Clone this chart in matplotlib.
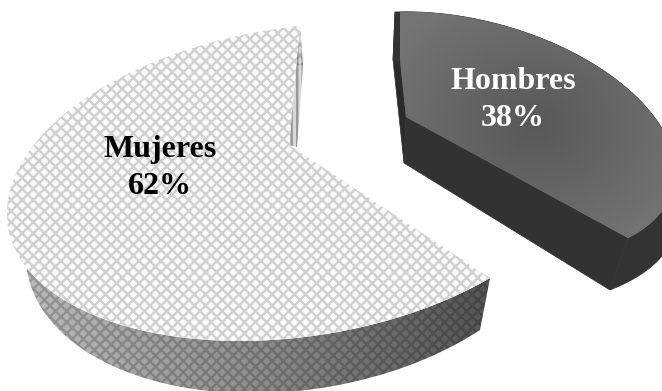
import numpy as np
import matplotlib
matplotlib.use("Agg")
import matplotlib.pyplot as plt
from matplotlib.patches import Polygon

categories = ["Hombres", "Mujeres"]
shares = [38, 62]

plt.rcParams["font.family"] = ["Liberation Serif", "DejaVu Serif"]
plt.rcParams["hatch.linewidth"] = 1.7

fig = plt.figure(figsize=(6.62, 3.91), dpi=100)
ax = fig.add_axes([0, 0, 1, 1])
ax.set_xlim(0, 662)
ax.set_ylim(391, 0)
ax.axis("off")

# clockwise slice angles, measured from twelve o'clock
split = 2 * np.pi * shares[0] / sum(shares)


def disc_xy(theta):
    return np.sin(theta), np.cos(theta)


def homography(src, dst):
    rows, rhs = [], []
    for (u, v), (x, y) in zip(src, dst):
        rows.append([u, v, 1, 0, 0, 0, -u * x, -v * x])
        rows.append([0, 0, 0, u, v, 1, -u * y, -v * y])
        rhs += [x, y]
    h = np.linalg.solve(np.array(rows, float), np.array(rhs, float))
    return np.append(h, 1).reshape(3, 3)


def project(H, u, v):
    p = H @ np.vstack([u, v, np.ones_like(u)])
    return np.column_stack([p[0] / p[2], p[1] / p[2]])


split_pt = disc_xy(split)
men_src = [disc_xy(0), disc_xy(np.pi / 4), disc_xy(np.pi / 2), split_pt]
men_top = homography(men_src, [(395, 12), (590, 62), (675, 165), (628, 238)])
men_low = homography(men_src, [(393, 60), (585, 118), (675, 208), (610, 290)])

women_src = [disc_xy(np.pi), disc_xy(1.5 * np.pi), disc_xy(2 * np.pi), split_pt]
women_top = homography(women_src, [(271, 340), (9, 195), (300, 26), (490, 278)])
women_low = homography(women_src, [(268, 393), (30, 226), (303, 65), (480, 330)])

men_apex_t = np.array([[406.0, 117.0]])
men_apex_l = np.array([[404.0, 163.0]])
women_apex_t = np.array([[289.0, 145.0]])
women_apex_b = np.array([[297.0, 147.0]])


def rim(H, start, end, n=240):
    t = np.linspace(start, end, n)
    u, v = disc_xy(t)
    return project(H, u, v)


def gradient_fill(poly, colors, extent, direction="x", zorder=1):
    """Paint a grey ramp or radial ramp clipped to a polygon."""
    patch = Polygon(poly, closed=True, fc="none", ec="none", zorder=zorder)
    ax.add_patch(patch)
    x0, x1, y0, y1 = extent
    xx, yy = np.meshgrid(np.linspace(0, 1, 300), np.linspace(0, 1, 200))
    if direction == "x":
        ramp = xx
    else:
        ramp = np.clip(np.hypot((xx - 0.5) * 1.6, (yy - 0.5) * 1.6), 0, 1)
    cmap = matplotlib.colors.LinearSegmentedColormap.from_list("ramp", colors)
    im = ax.imshow(ramp, extent=(x0, x1, y1, y0), cmap=cmap, vmin=0, vmax=1,
                   aspect="auto", zorder=zorder, interpolation="bilinear")
    im.set_clip_path(patch)


# Hombres wedge: side walls, then top
men_rim_t = rim(men_top, 0, split)
men_rim_l = rim(men_low, 0, split)

ax.add_patch(Polygon(np.vstack([men_apex_t, men_rim_t[0], men_rim_l[0], men_apex_l]),
                     fc="#2b2b2b", ec="#2b2b2b", lw=0.5, zorder=1))
ax.add_patch(Polygon(np.vstack([men_apex_t, men_rim_t[-1], men_rim_l[-1], men_apex_l]),
                     fc="#323232", ec="#323232", lw=0.5, zorder=1))
ax.add_patch(Polygon(np.vstack([men_rim_t, men_rim_l[::-1]]),
                     fc="#333333", ec="#333333", lw=0.5, zorder=1))
gradient_fill(np.vstack([men_apex_t, men_rim_t]), ["#585858", "#747474"],
              (400, 670, 10, 240), direction="r", zorder=2)

# Mujeres wedge: side walls, then top
women_rim_t = rim(women_top, split, 2 * np.pi)
women_rim_l = rim(women_low, split, 2 * np.pi)

# cut face seen almost edge-on next to the rear radius
sliver = np.vstack([women_rim_t[-1:], women_rim_l[-1:], women_apex_b, women_apex_t])
ax.add_patch(Polygon(sliver, fc="#d8d8d8", ec="none", zorder=1))
ax.add_patch(Polygon(sliver, fc="none", ec="#989898", hatch="|||", lw=0, zorder=1.1))

wall = np.vstack([women_rim_t, women_rim_l[::-1]])
gradient_fill(wall, ["#bcbcbc", "#8e8e8e", "#545454"], (20, 490, 190, 391),
              direction="x", zorder=2)
ax.add_patch(Polygon(wall, fc="none", ec=(0, 0, 0, 0.2), hatch="xxx", lw=0, zorder=2.1))

top = np.vstack([women_apex_t, women_rim_t])
ax.add_patch(Polygon(top, fc="#fbfbfb", ec="none", zorder=3))
ax.add_patch(Polygon(top, fc="none", ec="#d0d0d0", hatch="xxx", lw=0, zorder=3.1))

# Category labels with their percentages
ax.text(513, 100, f"{categories[0]}\n{shares[0]}%", color="white", fontsize=23,
        fontweight="bold", ha="center", va="center", linespacing=1.36, zorder=5)
ax.text(160, 168, f"{categories[1]}\n{shares[1]}%", color="black", fontsize=23,
        fontweight="bold", ha="center", va="center", linespacing=1.36, zorder=5)

fig.savefig("out.png", dpi=100)
